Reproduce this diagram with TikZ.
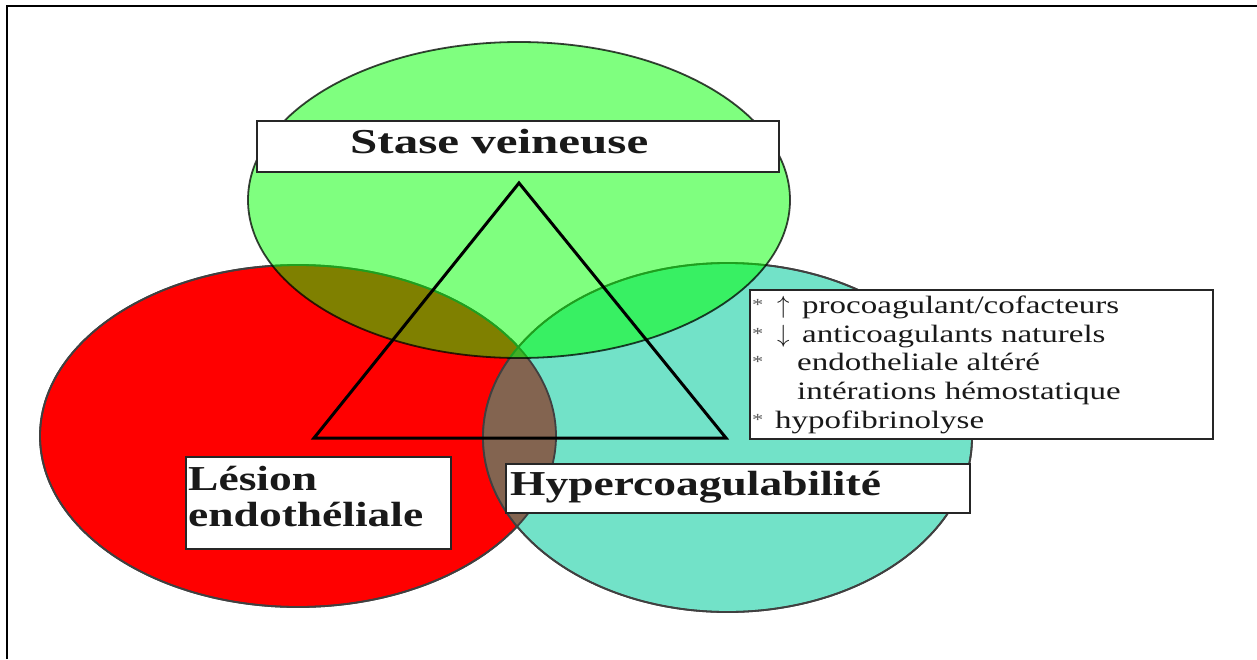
\documentclass[tikz,border=0pt]{standalone}
\usepackage{fontspec}
\setmainfont{Liberation Serif}
\newfontfamily\headfont[FakeStretch=1.3]{Liberation Serif}
\newfontfamily\wideheadfont[FakeStretch=1.4]{Liberation Serif}
\newfontfamily\notefont[FakeStretch=1.32]{Liberation Serif}
\definecolor{lesionred}{RGB}{255,0,0}
\definecolor{coagteal}{RGB}{114,226,200}
\definecolor{lensbrown}{RGB}{131,100,80}
\definecolor{staseGreen}{RGB}{0,255,0}
\begin{document}
\begin{tikzpicture}[x=1pt,y=-1pt,
  circ/.style={line width=1.8pt, draw=black!75},
  box/.style={draw=black!85, line width=1.6pt, fill=white, rectangle, inner sep=0pt},
  head/.style={font=\headfont\bfseries\fontsize{35}{36}\selectfont, inner sep=0pt, anchor=base west, text=black!90},
  note/.style={font=\notefont\fontsize{25}{28.5}\selectfont, inner sep=0pt, anchor=base west, text=black!90},
  star/.style={font=\notefont\fontsize{17}{17}\selectfont, inner sep=0pt, anchor=base west, text=black!65}]
\useasboundingbox (0,0) rectangle (1257,659);
\fill[white] (0,0) rectangle (1257,659);
% outer frame (top and left sides)
\draw[line width=2.5pt] (7,659) -- (7,6) -- (1257,6);

% the three factors
\draw[circ, fill=lesionred] (298,436) ellipse [x radius=258, y radius=171];
\draw[circ, fill=coagteal] (727.5,437.5) ellipse [x radius=244.5, y radius=174.5];
\begin{scope}
  \clip (298,436) ellipse [x radius=258, y radius=171];
  \fill[lensbrown] (727.5,437.5) ellipse [x radius=244.5, y radius=174.5];
\end{scope}
\draw[circ] (298,436) ellipse [x radius=258, y radius=171];
\draw[circ] (727.5,437.5) ellipse [x radius=244.5, y radius=174.5];
\draw[line width=1.8pt, fill=staseGreen, fill opacity=0.5, draw=black, draw opacity=0.75]
  (519,200) ellipse [x radius=271, y radius=158];

% Virchow triangle
\coordinate (apex) at (519,183);
\coordinate (baseL) at (314,438);
\coordinate (baseR) at (726,438);
\draw[line width=3pt, line join=miter] (apex) -- (baseL) -- (baseR) -- cycle;

% label boxes
\node[box, minimum width=522pt, minimum height=51pt] (stasebox) at (518,146.5) {};
\node[box, minimum width=265pt, minimum height=92pt] (lesionbox) at (318.5,503) {};
\node[box, minimum width=464pt, minimum height=49pt] (hyperbox) at (738,488.5) {};
\node[box, minimum width=463pt, minimum height=149pt] (notebox) at (981.5,364.5) {};

% labels
\node[head, font=\wideheadfont\bfseries\fontsize{35}{36}\selectfont] (stase) at (350,153) {Stase veineuse};
\node[head] (lesiontop) at (188,490) {Lésion};
\node[head] (lesionbot) at (188,526) {endothéliale};
\node[head] (hyper) at (510,495) {Hypercoagulabilité};

% details of hypercoagulability
\node[star] (s1) at (752,310) {*};
\node[note] (u1) at (777,313) {$\uparrow$};
\node[note] (t1) at (802,313) {procoagulant/cofacteurs};
\node[star] (s2) at (752,339) {*};
\node[note] (u2) at (777,342) {$\downarrow$};
\node[note] (t2) at (802,342) {anticoagulants naturels};
\node[star] (s3) at (752,367) {*};
\node[note] (t3) at (797,370) {endotheliale altéré};
\node[note] (t4) at (797,399) {intérations hémostatique};
\node[star] (s5) at (752,425) {*};
\node[note] (t5) at (775,428) {hypofibrinolyse};
\end{tikzpicture}
\end{document}
